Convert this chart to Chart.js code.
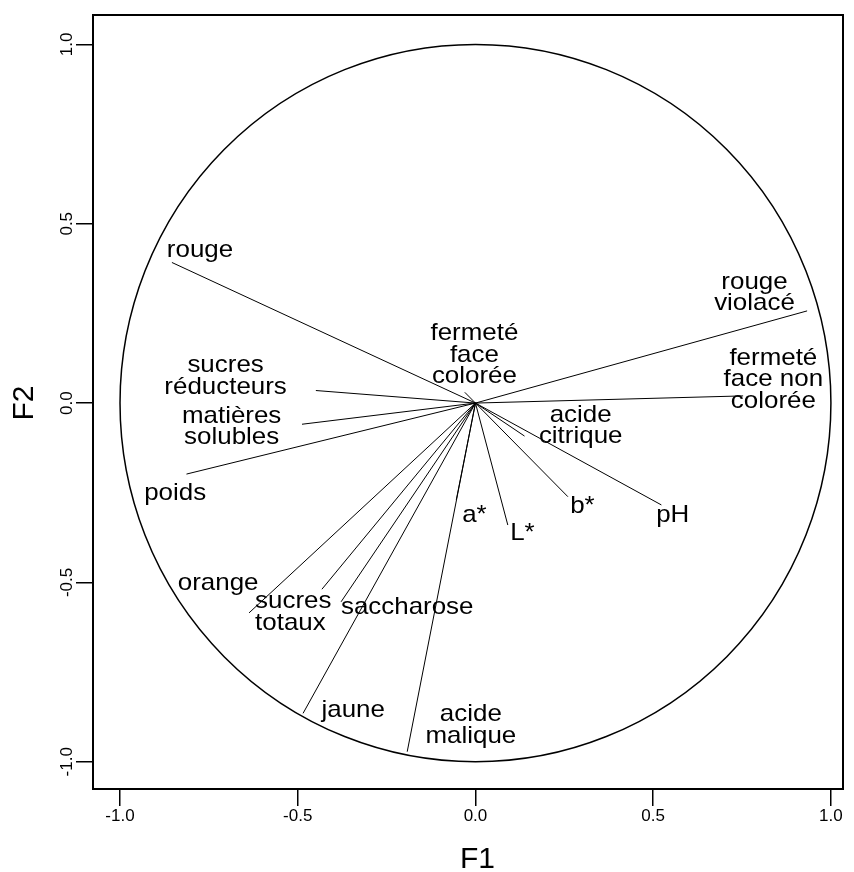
<!DOCTYPE html>
<html>
<head>
<meta charset="utf-8">
<script src="https://cdn.jsdelivr.net/npm/chart.js@4"></script>
<style>
  html, body { margin: 0; padding: 0; background: #fff; }
  canvas { display: block; }
</style>
</head>
<body>
<canvas id="c" width="854" height="872"></canvas>
<script>
// ---- data ----
const variables = ["rouge", "sucres réducteurs", "matières solubles", "poids", "fermeté face colorée",
  "rouge violacé", "fermeté face non colorée", "acide citrique", "b*", "pH", "L*", "a*",
  "orange", "sucres totaux", "saccharose", "jaune", "acide malique"];
const f1 = [-0.854, -0.449, -0.488, -0.813, -0.030, 0.933, 0.753, 0.138, 0.260, 0.523, 0.091, -0.054,
  -0.637, -0.432, -0.378, -0.485, -0.192];
const f2 = [0.392, 0.035, -0.059, -0.198, 0.030, 0.257, 0.020, -0.092, -0.261, -0.284, -0.340, -0.270,
  -0.585, -0.519, -0.554, -0.865, -0.972];
const tickValues = [-1.0, -0.5, 0.0, 0.5, 1.0];
const tickLabels = ["-1.0", "-0.5", "0.0", "0.5", "1.0"];
const xTitle = "F1";
const yTitle = "F2";

// ---- label layout (annotation anchors in axis units, kept apart from data) ----
const labelLines = [["rouge"], ["sucres", "réducteurs"], ["matières", "solubles"], ["poids"],
  ["fermeté", "face", "colorée"], ["rouge", "violacé"], ["fermeté", "face non", "colorée"],
  ["acide", "citrique"], ["b*"], ["pH"], ["L*"], ["a*"], ["orange"], ["sucres", "totaux"],
  ["saccharose"], ["jaune"], ["acide", "malique"]];
const labelAnchor = [[-0.775, 0.427], [-0.703, 0.074], [-0.686, -0.066], [-0.845, -0.251],
  [-0.003, 0.134], [0.785, 0.307], [0.838, 0.066], [0.296, -0.064], [0.301, -0.289],
  [0.555, -0.312], [0.132, -0.362], [-0.003, -0.312], [-0.724, -0.502], [-0.620, -0.584],
  [-0.192, -0.569], [-0.344, -0.856], [-0.013, -0.899]];
const labelAlign = ["center", "center", "center", "center", "center", "center", "center", "center",
  "center", "center", "center", "center", "center", "left", "center", "center", "center"];

const FONT = '"Liberation Sans", Arial, Helvetica, sans-serif';

const datasets = variables.map((name, i) => ({
  label: name,
  data: [{x: 0, y: 0}, {x: f1[i], y: f2[i]}],
  showLine: true,
  borderColor: '#000',
  borderWidth: 1,
  pointRadius: 0,
  pointHoverRadius: 0,
  fill: false
}));

const decor = {
  id: 'decor',
  beforeDatasetsDraw(chart) {
    const {ctx, scales: {x, y}} = chart;
    ctx.save();
    // unit circle
    const cx = x.getPixelForValue(0), cy = y.getPixelForValue(0);
    const rx = x.getPixelForValue(1) - cx, ry = cy - y.getPixelForValue(1);
    ctx.beginPath();
    ctx.ellipse(cx, cy, rx, ry, 0, 0, Math.PI * 2);
    ctx.lineWidth = 1.5;
    ctx.strokeStyle = '#000';
    ctx.stroke();
    ctx.restore();
  },
  afterDraw(chart) {
    const {ctx, chartArea: a, scales: {x, y}} = chart;
    ctx.save();
    // frame
    ctx.strokeStyle = '#000';
    ctx.lineWidth = 2;
    ctx.strokeRect(a.left, a.top, a.right - a.left, a.bottom - a.top);
    // y tick labels, rotated
    ctx.fillStyle = '#000';
    ctx.font = '17px ' + FONT;
    ctx.textAlign = 'center';
    ctx.textBaseline = 'middle';
    tickValues.forEach((v, i) => {
      ctx.save();
      ctx.translate(67, y.getPixelForValue(v));
      ctx.rotate(-Math.PI / 2);
      ctx.fillText(tickLabels[i], 0, 0);
      ctx.restore();
    });
    // axis titles
    ctx.font = '30px ' + FONT;
    ctx.textBaseline = 'alphabetic';
    ctx.fillText(xTitle, (x.getPixelForValue(0) + 2), 868);
    ctx.save();
    ctx.translate(33, y.getPixelForValue(0));
    ctx.rotate(-Math.PI / 2);
    ctx.fillText(yTitle, 0, 0);
    ctx.restore();
    // variable labels
    ctx.font = '24px ' + FONT;
    ctx.textBaseline = 'middle';
    const lh = 21.5, sx = 1.08;
    labelLines.forEach((lines, i) => {
      const px = x.getPixelForValue(labelAnchor[i][0]);
      const py = y.getPixelForValue(labelAnchor[i][1]);
      const y0 = py - (lines.length - 1) * lh / 2;
      ctx.textAlign = labelAlign[i];
      lines.forEach((t, k) => {
        ctx.save();
        ctx.translate(px, y0 + k * lh);
        ctx.scale(sx, 1);
        ctx.fillText(t, 0, 0);
        ctx.restore();
      });
    });
    ctx.restore();
  }
};

new Chart(document.getElementById('c'), {
  type: 'scatter',
  data: { datasets },
  options: {
    responsive: false,
    animation: false,
    devicePixelRatio: 1,
    layout: { padding: { top: 15, right: 11, left: 0, bottom: 0 } },
    plugins: { legend: { display: false }, tooltip: { enabled: false } },
    events: [],
    scales: {
      x: {
        type: 'linear',
        min: -1.076, max: 1.034,
        afterBuildTicks: s => { s.ticks = tickValues.map(v => ({value: v})); },
        afterFit: s => { s.height = 83; },
        ticks: {
          callback: (v) => { const i = tickValues.indexOf(v); return i >= 0 ? tickLabels[i] : ''; },
          color: '#000',
          font: { family: FONT, size: 17 },
          padding: 0,
          maxRotation: 0, minRotation: 0
        },
        grid: { display: true, drawOnChartArea: false, drawTicks: true, tickLength: 17, color: '#000', lineWidth: 1.5 },
        border: { display: true, color: '#000', width: 2 }
      },
      y: {
        type: 'linear',
        min: -1.076, max: 1.082,
        afterBuildTicks: s => { s.ticks = tickValues.map(v => ({value: v})); },
        afterFit: s => { s.width = 93; },
        ticks: { display: false },
        grid: { display: true, drawOnChartArea: false, drawTicks: true, tickLength: 17, color: '#000', lineWidth: 1.5 },
        border: { display: true, color: '#000', width: 2 }
      }
    }
  },
  plugins: [decor]
});
</script>
</body>
</html>
